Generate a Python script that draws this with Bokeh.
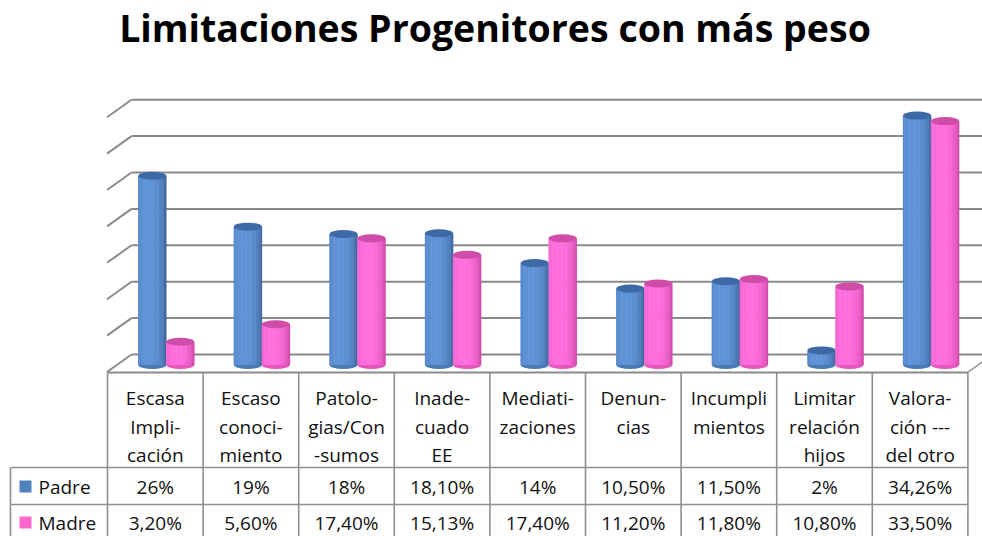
from bokeh.plotting import figure
from bokeh.models import Range1d
from bokeh.core.properties import value
from bokeh.embed import file_html
from bokeh.resources import INLINE

# ---------------- data ----------------
title = "Limitaciones Progenitores con más peso"
categories = ["Escasa\nImpli-\ncación", "Escaso\nconoci-\nmiento", "Patolo-\ngias/Con\n-sumos",
              "Inade-\ncuado\nEE", "Mediati-\nzaciones", "Denun-\ncias", "Incumpli\nmientos",
              "Limitar\nrelación\nhijos", "Valora-\nción ---\ndel otro"]
series_names = ["Padre", "Madre"]
padre = [26, 19, 18, 18.10, 14, 10.50, 11.50, 2, 34.26]
madre = [3.20, 5.60, 17.40, 15.13, 17.40, 11.20, 11.80, 10.80, 33.50]
padre_labels = ["26%", "19%", "18%", "18,10%", "14%", "10,50%", "11,50%", "2%", "34,26%"]
madre_labels = ["3,20%", "5,60%", "17,40%", "15,13%", "17,40%", "11,20%", "11,80%", "10,80%", "33,50%"]
y_ticks = [0, 5, 10, 15, 20, 25, 30, 35]

# ---------------- layout helpers (page pixels -> data) ----------------
COL_W = 95.6
COL0_CENTER = 154.8
BASE_Y = 364.5
PX_PER_PCT = 7.28
W, H = 982, 536
OFF = 0

def X(px):
    return (px - COL0_CENTER) / COL_W

def Y(py):
    return (BASE_Y - py) / PX_PER_PCT

p = figure(width=W, height=H, output_backend="svg", toolbar_location=None,
           x_range=Range1d(X(OFF), X(OFF + W)), y_range=Range1d(Y(OFF + H), Y(OFF)),
           x_axis_type=None, y_axis_type=None, min_border=0,
           outline_line_color=None, background_fill_color="white",
           border_fill_color="white")
p.grid.visible = False

FONT = value("Open Sans")
GRID_COL = "#8a8a8a"

# ---------------- back wall gridlines + left wall ----------------
back_off_y = (BASE_Y - 354) / PX_PER_PCT   # back wall zero level in data units
dx_depth = 24.5 / COL_W
dy_depth = 17.5 / PX_PER_PCT
gy = [t + back_off_y for t in y_ticks]
p.segment(x0=[X(131)] * len(gy), y0=gy, x1=[X(1000)] * len(gy), y1=gy,
          line_color=GRID_COL, line_width=2)
p.segment(x0=[X(131) - dx_depth] * len(gy), y0=[g - dy_depth for g in gy],
          x1=[X(131)] * len(gy), y1=gy, line_color=GRID_COL, line_width=2)
# floor right side
p.segment(x0=[X(967)], y0=[Y(372)], x1=[X(967) + dx_depth], y1=[Y(372) + dy_depth],
          line_color=GRID_COL, line_width=1.5)

# ---------------- cylinders ----------------
xs = list(range(len(categories)))
bar_w = 28 / COL_W
ell_h = 8 / PX_PER_PCT
offsets = {"Padre": -3 / COL_W, "Madre": 25 / COL_W}
cols = {"Padre": ((52, 90, 142), (96, 148, 216), "#3d6aa6", "#4a7ab5"),
        "Madre": ((196, 62, 154), (255, 112, 222), "#d04ca9", "#e657be")}
N = 22

def hexc(c):
    return "#%02x%02x%02x" % tuple(int(max(0, min(255, v))) for v in c)

for name, vals in (("Padre", padre), ("Madre", madre)):
    dark, light, topc, basec = cols[name]
    cx = [x + offsets[name] for x in xs]
    # rounded bottom
    p.ellipse(x=cx, y=[0] * len(cx), width=bar_w, height=ell_h,
              fill_color=basec, line_color=None)
    for j in range(N):
        t = (j + 0.5) / N * 2 - 1
        w = max(0.0, 1 - ((t + 0.25) / 1.25) ** 2) ** 0.5
        c = [dark[k] + (light[k] - dark[k]) * w for k in range(3)]
        sx = [c0 + t * bar_w / 2 for c0 in cx]
        p.vbar(x=sx, top=vals, bottom=0, width=bar_w / N * 1.4,
               fill_color=hexc(c), line_color=None)
    p.ellipse(x=cx, y=vals, width=bar_w, height=ell_h,
              fill_color=topc, line_color=None)

# ---------------- data table ----------------
TAB_COL = "#8f8f8f"
top_y, r1_y, r2_y, bot_y = 372, 467, 504, 545
left_x, first_x = 10, 107
edges = [first_x + COL_W * i for i in range(len(categories) + 1)]
# horizontal lines
p.segment(x0=[X(first_x)], y0=[Y(top_y)], x1=[X(edges[-1])], y1=[Y(top_y)],
          line_color=GRID_COL, line_width=2)
p.segment(x0=[X(left_x)] * 2, y0=[Y(r1_y), Y(r2_y)], x1=[X(edges[-1])] * 2,
          y1=[Y(r1_y), Y(r2_y)], line_color=TAB_COL, line_width=1.6)
# vertical lines
p.segment(x0=[X(e) for e in edges], y0=[Y(top_y)] * len(edges),
          x1=[X(e) for e in edges], y1=[Y(bot_y)] * len(edges),
          line_color=TAB_COL, line_width=1.6)
p.segment(x0=[X(left_x)], y0=[Y(r1_y)], x1=[X(left_x)], y1=[Y(bot_y)],
          line_color=TAB_COL, line_width=1.6)

# header texts
line_ys = [397, 426, 454]
hx, hy, ht = [], [], []
for i, cat in enumerate(categories):
    for k, ln in enumerate(cat.split("\n")):
        hx.append(i)
        hy.append(Y(line_ys[k]))
        ht.append(ln)
p.text(x=hx, y=hy, text=ht, text_font=FONT, text_font_size="19px",
       text_align="center", text_baseline="middle", text_color="#111111")

# values
p.text(x=xs, y=[Y(486)] * len(xs), text=padre_labels, text_font=FONT,
       text_font_size="19px", text_align="center", text_baseline="middle",
       text_color="#111111")
p.text(x=xs, y=[Y(522)] * len(xs), text=madre_labels, text_font=FONT,
       text_font_size="19px", text_align="center", text_baseline="middle",
       text_color="#111111")

# legend keys in row headers
p.scatter(x=[X(25)] * 2, y=[Y(486), Y(522)], marker="square", size=12,
          fill_color=["#4f81bd", "#ff66cc"], line_color=None)
p.text(x=[X(38)] * 2, y=[Y(486), Y(522)], text=series_names, text_font=FONT,
       text_font_size="19px", text_align="left", text_baseline="middle",
       text_color="#111111")

# title
p.text(x=[X(494.5)], y=[Y(27)], text=[title], text_font=FONT,
       text_font_size="37.5px", text_font_style="bold", text_align="center",
       text_baseline="middle", text_color="black")

open("out.html", "w").write(file_html(p, INLINE))
